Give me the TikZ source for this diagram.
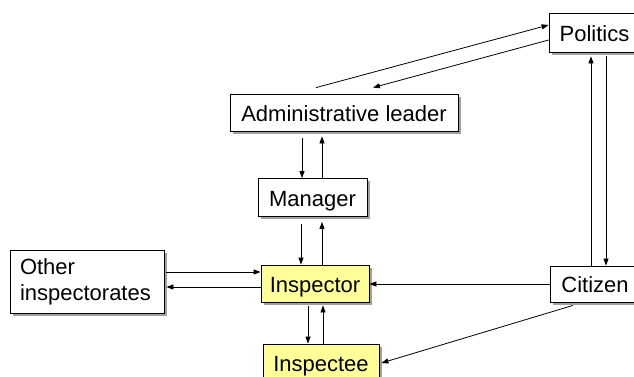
\documentclass[tikz,border=0pt]{standalone}
\usepackage{fontspec}
\setmainfont{Liberation Sans}
\usetikzlibrary{arrows.meta,shadows}
\definecolor{paleyellow}{RGB}{255,255,153}
\definecolor{shadowgray}{RGB}{150,150,150}
\tikzset{
  box/.style={draw, line width=0.8pt, fill=white, inner sep=0pt,
    font=\fontsize{22}{26}\selectfont,
    drop shadow={shadow xshift=2.5pt, shadow yshift=-2.5pt, fill=shadowgray, opacity=0.9}},
  oneline/.style={text height=20pt, text depth=3pt},
  hilite/.style={fill=paleyellow},
  arr/.style={-{Triangle[length=7pt,width=5pt]}, line width=0.8pt}
}
\begin{document}
\begin{tikzpicture}[x=1pt, y=-1pt]
\useasboundingbox (0,0) rectangle (634,376);
\clip (0,0) rectangle (634,376);
\fill[white] (0,0) rectangle (634,376);

% boxes
\node[box, oneline, minimum width=91pt, minimum height=39pt] (pol) at (594.5,32.5) {Politics};
\node[box, oneline, minimum width=228pt, minimum height=37pt] (adm) at (344,112.5) {Administrative leader};
\node[box, oneline, minimum width=109pt, minimum height=38pt] (man) at (312.5,197.5) {Manager};
\node[box, align=left, text width=134pt, inner xsep=10pt, minimum height=63pt] (oth) at (87,281.5) {Other\\inspectorates};
\node[box, oneline, hilite, minimum width=108pt, minimum height=37pt] (ins) at (315,283.5) {Inspector};
\node[box, oneline, minimum width=90pt, minimum height=36pt] (cit) at (595,284) {Citizen};
\node[box, oneline, hilite, minimum width=116pt, minimum height=38pt] (ise) at (321,363) {Inspectee};

% administrative leader <-> politics
\draw[arr] ([xshift=-28pt,yshift=6pt]adm.north) -- ([yshift=7.5pt]pol.west);
\draw[arr] ([yshift=-7.5pt]pol.west) -- ([xshift=29pt,yshift=6pt]adm.north);

% administrative leader <-> manager
\draw[arr] ([xshift=-42pt,yshift=-7pt]adm.south) -- ([xshift=-10.5pt]man.north);
\draw[arr] ([xshift=9.5pt]man.north) -- ([xshift=-22pt,yshift=-5pt]adm.south);

% manager <-> inspector
\draw[arr] ([xshift=-11.5pt,yshift=-7pt]man.south) -- ([xshift=-14pt]ins.north);
\draw[arr] ([xshift=7pt]ins.north) -- ([xshift=9.5pt,yshift=-5pt]man.south);

% inspector <-> inspectee
\draw[arr] ([xshift=-7pt,yshift=-4pt]ins.south) -- ([xshift=-13pt]ise.north);
\draw[arr] ([xshift=2pt]ise.north) -- ([xshift=8pt,yshift=-3pt]ins.south);

% other inspectorates <-> inspector
\draw[arr] ([xshift=2pt,yshift=9.5pt]oth.east) -- ([yshift=11.5pt]ins.west);
\draw[arr] ([yshift=-3.5pt]ins.west) -- ([xshift=2pt,yshift=-5.5pt]oth.east);

% citizen -> inspector, citizen -> inspectee
\draw[arr] (cit.west) -- (cit.west -| ins.east);
\draw[arr] ([xshift=-22pt,yshift=-3pt]cit.south) -- ([xshift=2pt]ise.east);

% citizen <-> politics
\draw[arr] ([xshift=-4pt]cit.north) -- ([xshift=-3.5pt,yshift=-4pt]pol.south);
\draw[arr] ([xshift=11.5pt,yshift=-4pt]pol.south) -- ([xshift=11pt]cit.north);
\end{tikzpicture}
\end{document}
